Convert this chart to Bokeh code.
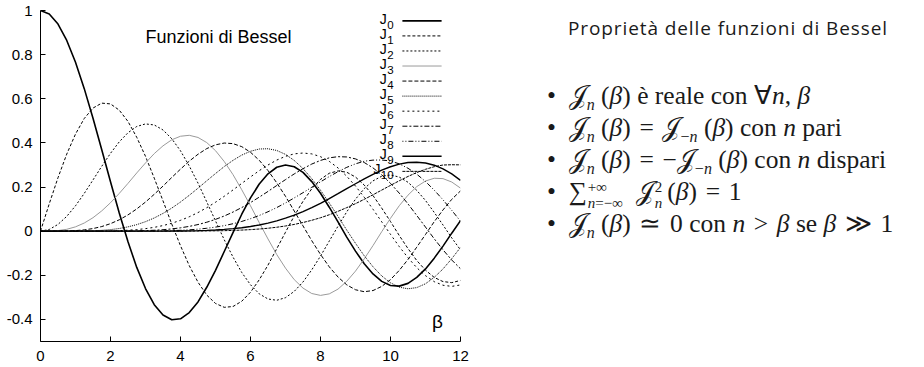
from bokeh.plotting import figure
from bokeh.models import ColumnDataSource, Label, PrintfTickFormatter, FixedTicker, Div, Range1d
from bokeh.layouts import row
from bokeh.core.properties import value
from bokeh.embed import file_html
from bokeh.resources import INLINE

# ---- data (beta step 0.25) ----
beta = [0, 0.25, 0.5, 0.75, 1, 1.25, 1.5, 1.75, 2, 2.25, 2.5, 2.75, 3, 3.25, 3.5, 3.75, 4, 4.25, 4.5, 4.75,
        5, 5.25, 5.5, 5.75, 6, 6.25, 6.5, 6.75, 7, 7.25, 7.5, 7.75, 8, 8.25, 8.5, 8.75, 9, 9.25, 9.5, 9.75,
        10, 10.25, 10.5, 10.75, 11, 11.25, 11.5, 11.75, 12]
j0 = [1, 0.9844, 0.9385, 0.8642, 0.7652, 0.6459, 0.5118, 0.3690, 0.2239, 0.0827, -0.0484, -0.1643, -0.2601,
      -0.3332, -0.3801, -0.4014, -0.3971, -0.3687, -0.3205, -0.2543, -0.1776, -0.0922, -0.0068, 0.0768, 0.1506,
      0.2136, 0.2601, 0.2897, 0.3001, 0.2919, 0.2663, 0.2247, 0.1717, 0.1086, 0.0419, -0.0267, -0.0903,
      -0.1480, -0.1939, -0.2276, -0.2459, -0.2490, -0.2366, -0.2097, -0.1712, -0.1222, -0.0677, -0.0091, 0.0477]
j1 = [0, 0.1240, 0.2423, 0.3493, 0.4401, 0.5106, 0.5579, 0.5802, 0.5767, 0.5484, 0.4971, 0.4253, 0.3391,
      0.2403, 0.1374, 0.0324, -0.0660, -0.1562, -0.2311, -0.2897, -0.3276, -0.3451, -0.3414, -0.3176, -0.2767,
      -0.2201, -0.1538, -0.0795, -0.0047, 0.0693, 0.1352, 0.1921, 0.2346, 0.2624, 0.2731, 0.2671, 0.2453,
      0.2088, 0.1613, 0.1043, 0.0435, -0.0196, -0.0789, -0.1331, -0.1768, -0.2097, -0.2284, -0.2332, -0.2234]
j2 = [0, 0.0078, 0.0306, 0.0671, 0.1149, 0.1711, 0.2321, 0.2940, 0.3528, 0.4047, 0.4461, 0.4744, 0.4861,
      0.4813, 0.4586, 0.4189, 0.3641, 0.2955, 0.2178, 0.1326, 0.0466, -0.0390, -0.1173, -0.1871, -0.2429,
      -0.2841, -0.3074, -0.3132, -0.3014, -0.2728, -0.2303, -0.1753, -0.1130, -0.0450, 0.0224, 0.0877, 0.1448,
      0.1930, 0.2279, 0.2491, 0.2546, 0.2451, 0.2216, 0.1850, 0.1390, 0.0849, 0.0280, -0.0305, -0.0849]
j3 = [0, 0.0003, 0.0026, 0.0085, 0.0196, 0.0369, 0.0610, 0.0919, 0.1289, 0.1711, 0.2167, 0.2639, 0.3091,
      0.3515, 0.3867, 0.4142, 0.4302, 0.4344, 0.4247, 0.4014, 0.3648, 0.3155, 0.2561, 0.1877, 0.1148,
      0.0386, -0.0354, -0.1059, -0.1676, -0.2197, -0.2580, -0.2825, -0.2911, -0.2842, -0.2626, -0.2271, -0.1809,
      -0.1253, -0.0653, -0.0022, 0.0584, 0.1153, 0.1633, 0.2018, 0.2273, 0.2398, 0.2381, 0.2227, 0.1951]
j4 = [0, 0, 0.0002, 0.0008, 0.0025, 0.0059, 0.0118, 0.0209, 0.0340, 0.0515, 0.0738, 0.1008, 0.1320,
      0.1671, 0.2043, 0.2432, 0.2811, 0.3172, 0.3485, 0.3742, 0.3912, 0.3994, 0.3967, 0.3830, 0.3576,
      0.3211, 0.2747, 0.2192, 0.1578, 0.0912, 0.0239, -0.0432, -0.1054, -0.1616, -0.2078, -0.2433, -0.2655,
      -0.2744, -0.2691, -0.2503, -0.2196, -0.1777, -0.1283, -0.0725, -0.0150, 0.0430, 0.0962, 0.1442, 0.1825]
j5 = [0, 0, 0, 0, 0.0002, 0.0007, 0.0018, 0.0038, 0.0070, 0.0121, 0.0195, 0.0296, 0.0430,
      0.0598, 0.0804, 0.1046, 0.1321, 0.1625, 0.1947, 0.2282, 0.2611, 0.2928, 0.3209, 0.3448, 0.3621,
      0.3723, 0.3735, 0.3657, 0.3479, 0.3203, 0.2835, 0.2380, 0.1858, 0.1278, 0.0670, 0.0047, -0.0550,
      -0.1117, -0.1613, -0.2031, -0.2341, -0.2539, -0.2611, -0.2558, -0.2383, -0.2093, -0.1712, -0.1247, -0.0735]
j6 = [0, 0, 0, 0, 0, 0.0001, 0.0002, 0.0006, 0.0012, 0.0024, 0.0042, 0.0071, 0.0114,
      0.0173, 0.0254, 0.0358, 0.0491, 0.0652, 0.0843, 0.1064, 0.1310, 0.1581, 0.1868, 0.2165, 0.2458,
      0.2743, 0.2999, 0.3222, 0.3392, 0.3504, 0.3541, 0.3502, 0.3376, 0.3164, 0.2866, 0.2488, 0.2043,
      0.1536, 0.0993, 0.0422, -0.0145, -0.0699, -0.1204, -0.1654, -0.2016, -0.2289, -0.2451, -0.2502, -0.2437]
j7 = [0, 0, 0, 0, 0, 0, 0, 0.0001, 0.0002, 0.0004, 0.0008, 0.0015, 0.0025,
      0.0042, 0.0067, 0.0102, 0.0152, 0.0216, 0.0300, 0.0405, 0.0534, 0.0687, 0.0866, 0.1070, 0.1296,
      0.1542, 0.1801, 0.2070, 0.2336, 0.2595, 0.2831, 0.3041, 0.3206, 0.3323, 0.3376, 0.3363, 0.3275,
      0.3110, 0.2867, 0.2551, 0.2167, 0.1722, 0.1235, 0.0713, 0.0184, -0.0347, -0.0846, -0.1308, -0.1703]
j8 = [0, 0, 0, 0, 0, 0, 0, 0, 0, 0.0001, 0.0001, 0.0002, 0.0004,
      0.0008, 0.0015, 0.0025, 0.0040, 0.0061, 0.0091, 0.0131, 0.0184, 0.0251, 0.0337, 0.0441, 0.0565,
      0.0711, 0.0880, 0.1070, 0.1280, 0.1507, 0.1744, 0.1990, 0.2235, 0.2474, 0.2695, 0.2892, 0.3051,
      0.3170, 0.3220, 0.3225, 0.3179, 0.3050, 0.2851, 0.2582, 0.2250, 0.1858, 0.1421, 0.0944, 0.0451]
j9 = [0, 0, 0, 0, 0, 0, 0, 0, 0, 0, 0, 0, 0.0001,
      0.0002, 0.0003, 0.0005, 0.0009, 0.0015, 0.0024, 0.0037, 0.0055, 0.0080, 0.0113, 0.0156, 0.0212,
      0.0281, 0.0366, 0.0468, 0.0589, 0.0729, 0.0890, 0.1068, 0.1263, 0.1474, 0.1697, 0.1925, 0.2149,
      0.2371, 0.2576, 0.2762, 0.2919, 0.3038, 0.3109, 0.3122, 0.3089, 0.2989, 0.2823, 0.2594, 0.2304]
j10 = [0, 0, 0, 0, 0, 0, 0, 0, 0, 0, 0, 0, 0,
       0, 0.0001, 0.0001, 0.0002, 0.0003, 0.0006, 0.0010, 0.0015, 0.0023, 0.0034, 0.0049, 0.0070,
       0.0097, 0.0133, 0.0178, 0.0235, 0.0305, 0.0392, 0.0492, 0.0608, 0.0743, 0.0899, 0.1067, 0.1247,
       0.1444, 0.1649, 0.1862, 0.2075, 0.2283, 0.2479, 0.2657, 0.2804, 0.2922, 0.2998, 0.3010, 0.3005]
orders = ["0", "1", "2", "3", "4", "5", "6", "7", "8", "9", "10"]
x_ticks = [0, 2, 4, 6, 8, 10, 12]
y_ticks = [-0.4, -0.2, 0, 0.2, 0.4, 0.6, 0.8, 1]
chart_title = "Funzioni di Bessel"
axis_symbol = "β"
panel_title = "Proprietà delle funzioni di Bessel"

series = [j0, j1, j2, j3, j4, j5, j6, j7, j8, j9, j10]
styles = [
    dict(line_color="black", line_width=1.6, line_dash="solid"),
    dict(line_color="black", line_width=1.0, line_dash="3 2"),
    dict(line_color="black", line_width=1.0, line_dash="2 2"),
    dict(line_color="#9a9a9a", line_width=1.0, line_dash="solid"),
    dict(line_color="black", line_width=1.0, line_dash="4 2"),
    dict(line_color="black", line_width=1.0, line_dash="1 1"),
    dict(line_color="black", line_width=1.0, line_dash="2 3"),
    dict(line_color="black", line_width=1.0, line_dash="5 2 2 2"),
    dict(line_color="black", line_width=1.0, line_dash="1 2 1 2 5 2"),
    dict(line_color="black", line_width=1.4, line_dash="solid"),
    dict(line_color="black", line_width=1.0, line_dash="3 1"),
]

p = figure(width=500, height=367, x_range=Range1d(0, 12), y_range=Range1d(-0.5, 1),
           output_backend="svg", toolbar_location=None,
           min_border_left=40, min_border_right=40, min_border_top=10, min_border_bottom=26)
p.outline_line_color = None
p.grid.visible = False
p.background_fill_color = "white"

p.xaxis.ticker = FixedTicker(ticks=x_ticks)
p.yaxis.ticker = FixedTicker(ticks=y_ticks)
for ax in (p.xaxis, p.yaxis):
    ax.formatter = PrintfTickFormatter(format="%g")
    ax.major_tick_in = 5
    ax.major_tick_out = 0
    ax.minor_tick_line_color = None
    ax.axis_line_color = "black"
    ax.major_tick_line_color = "black"
    ax.major_label_text_font = "Liberation Sans"
    ax.major_label_text_font_size = "15px"
    ax.major_label_text_color = "black"
p.yaxis.major_label_standoff = 8
p.xaxis.major_label_standoff = 9

# curves
for ys, st in zip(series, styles):
    p.line(beta, ys, **st)

# legend (gnuplot-like: label on the left, sample on the right)
lx_text = 10.09
lx0, lx1 = 10.34, 11.46
leg_y = [0.953 - 0.0682 * i for i in range(len(orders))]
for i, st in enumerate(styles):
    p.segment(x0=[lx0], y0=[leg_y[i]], x1=[lx1], y1=[leg_y[i]], **st)

leg_src = ColumnDataSource(dict(
    x=[lx_text] * len(orders), y=leg_y, sub=orders,
    J=["J"] * len(orders), joff=[-6.3 * len(s) - 0.5 for s in orders]))
p.text(x="x", y="y", text="J", source=leg_src, x_offset="joff", y_offset=-2,
       text_align="right", text_baseline="middle",
       text_font=value("Liberation Sans"), text_font_size="14px", text_color="black")
p.text(x="x", y="y", text="sub", source=leg_src, y_offset=4,
       text_align="right", text_baseline="middle",
       text_font=value("Liberation Sans"), text_font_size="11.5px", text_color="black")

p.add_layout(Label(x=3.0, y=0.878, text=chart_title, text_font="Liberation Sans",
                   text_font_size="18px", text_color="black", text_baseline="alphabetic"))
p.add_layout(Label(x=11.34, y=-0.41, text=axis_symbol, text_font="Liberation Sans",
                   text_font_size="19px", text_color="black", text_align="center",
                   text_baseline="middle"))

# right-hand panel with the properties
J = "\U0001D4A5"
sub = lambda s: f'<sub style="font-size:16px;line-height:0;">{s}</sub>'
b = "<i>β</i>"
op = lambda s: f'<span style="padding:0 0.34em;">{s}</span>'
stack = lambda top, bot: (f'<span style="display:inline-block;vertical-align:-0.5em;font-size:15px;'
                          f'line-height:16px;text-align:left;margin-left:1px;">{top}<br>{bot}</span>')
lines = [
    f'{J}{sub("<i>n</i>")} ({b}) è reale con ∀<i>n</i>, {b}',
    f'{J}{sub("<i>n</i>")} ({b}){op("=")}{J}{sub("−<i>n</i>")} ({b}) con <i>n</i> pari',
    f'{J}{sub("<i>n</i>")} ({b}){op("=")}−{J}{sub("−<i>n</i>")} ({b}) con <i>n</i> dispari',
    f'∑{stack("+∞", "<i>n</i>=−∞")}&ensp;{J}{stack("2", "<i>n</i>")}&thinsp;({b}){op("=")}1',
    f'{J}{sub("<i>n</i>")} ({b}){op("≃")}0 con <i>n</i>{op("&gt;")}{b} se {b}{op("≫")}1',
]
body = "".join(f'<div style="white-space:nowrap;height:32px;">•&nbsp; {ln}</div>' for ln in lines)
html = (f'<div style="position:relative;width:424px;height:367px;color:#1a1a1a;">'
        f'<div style="position:absolute;left:68px;top:15px;font-family:\'Open Sans\',sans-serif;'
        f'font-size:19px;letter-spacing:0.9px;white-space:nowrap;">{panel_title}</div>'
        f'<div style="position:absolute;left:47px;top:80px;font-family:\'Liberation Serif\',serif;'
        f'font-size:25.5px;line-height:32px;">{body}</div></div>')
d = Div(text=html, width=424, height=367, margin=0)

layout = row(p, d)
open("out.html", "w").write(file_html(layout, INLINE))
